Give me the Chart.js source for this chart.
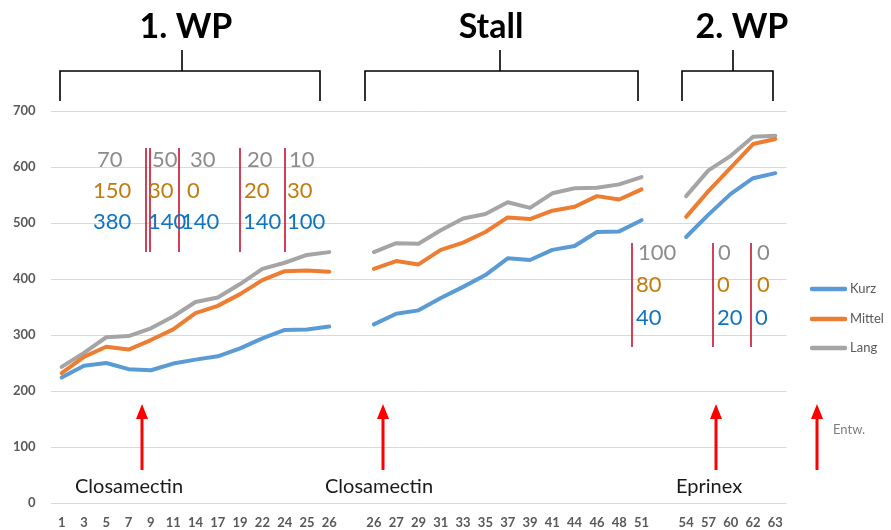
<!DOCTYPE html>
<html>
<head>
<meta charset="utf-8">
<script src="https://cdn.jsdelivr.net/npm/chart.js@4/dist/chart.umd.min.js"></script>
<style>
  html, body { margin: 0; padding: 0; background: #ffffff; }
  #wrap { width: 891px; height: 530px; }
</style>
</head>
<body>
<div id="wrap"><canvas id="c" width="891" height="530"></canvas></div>
<script>
// ---------- data ----------
// x categories (empty strings are the gaps between the three phases)
const categories = ['1','3','5','7','9','11','14','17','19','22','24','25','26','',
  '26','27','29','31','33','35','37','39','41','44','46','48','51','',
  '54','57','60','62','63'];

const kurz = [224, 245, 250, 239, 237, 249, 256, 262, 276, 294, 309, 310, 315, null,
  319, 338, 344, 366, 386, 407, 437, 434, 452, 459, 484, 485, 505, null,
  475, 515, 552, 580, 589];

const mittel = [232, 261, 279, 274, 291, 310, 339, 352, 373, 398, 414, 415, 413, null,
  418, 432, 426, 452, 465, 484, 510, 507, 522, 529, 548, 542, 560, null,
  511, 557, 599, 641, 650];

const lang = [243, 268, 296, 298, 312, 333, 359, 367, 391, 418, 429, 443, 448, null,
  448, 464, 463, 487, 508, 516, 537, 527, 553, 562, 563, 569, 582, null,
  548, 594, 620, 654, 656];

const seriesNames = ['Kurz', 'Mittel', 'Lang'];
const yTicks = [0, 100, 200, 300, 400, 500, 600, 700];

// annotation texts
const phaseTitles = ['1. WP', 'Stall', '2. WP'];
const treatments = ['Closamectin', 'Closamectin', 'Eprinex'];
const arrowNote = 'Entw.';
const grayNums1 = ['70', '50', '30', '20', '10'];
const orangeNums1 = ['150', '30', '0', '20', '30'];
const blueNums1 = ['380', '140', '140', '140', '100'];
const grayNums2 = ['100', '0', '0'];
const orangeNums2 = ['80', '0', '0'];
const blueNums2 = ['40', '20', '0'];

// ---------- styles / layout ----------
const COLORS = ['#5B9BD5', '#ED7D31', '#A5A5A5'];
const NUM_COLORS = { gray: '#8C8C8C', orange: '#C27C0E', blue: '#0F75C1' };
const FONT = 'Lato, "Open Sans", sans-serif';

const annotations = {
  id: 'annotations',
  afterDraw(chart) {
    const ctx = chart.ctx;
    ctx.save();

    // phase brackets and titles
    const brackets = [
      { l: 60, r: 320, c: 182, tx: 186 },
      { l: 365, r: 638, c: 500, tx: 491 },
      { l: 682, r: 773, c: 733, tx: 742 }
    ];
    ctx.strokeStyle = '#000';
    ctx.lineWidth = 1.6;
    brackets.forEach((b, i) => {
      ctx.beginPath();
      ctx.moveTo(b.l, 101); ctx.lineTo(b.l, 71); ctx.lineTo(b.r, 71); ctx.lineTo(b.r, 101);
      ctx.moveTo(b.c, 71); ctx.lineTo(b.c, 50);
      ctx.stroke();
      ctx.fillStyle = '#000';
      ctx.font = 'bold 34px ' + FONT;
      ctx.textAlign = 'center';
      ctx.textBaseline = 'middle';
      ctx.fillText(phaseTitles[i], b.tx, 27);
    });

    // red divider lines
    ctx.strokeStyle = '#C8102E';
    ctx.lineWidth = 1.6;
    [146, 150, 179, 240, 285].forEach(x => {
      ctx.beginPath(); ctx.moveTo(x, 148); ctx.lineTo(x, 252); ctx.stroke();
    });
    [632, 713, 751].forEach(x => {
      ctx.beginPath(); ctx.moveTo(x, 243); ctx.lineTo(x, 347); ctx.stroke();
    });

    // numbers
    ctx.font = '22px ' + FONT;
    ctx.textAlign = 'left';
    ctx.textBaseline = 'middle';
    const put = (arr, xs, y, col) => {
      ctx.fillStyle = col;
      arr.forEach((t, i) => ctx.fillText(t, xs[i], y));
    };
    put(grayNums1, [97, 152, 190, 247, 289], 160, NUM_COLORS.gray);
    put(orangeNums1, [93, 148, 187, 244, 287], 191, NUM_COLORS.orange);
    put(blueNums1, [93, 148, 181, 243, 287], 222, NUM_COLORS.blue);
    put(grayNums2, [638, 718, 757], 253, NUM_COLORS.gray);
    put(orangeNums2, [636, 717, 757], 285, NUM_COLORS.orange);
    put(blueNums2, [636, 717, 755], 318, NUM_COLORS.blue);

    // red arrows
    ctx.fillStyle = '#FF0000';
    ctx.strokeStyle = '#FF0000';
    [142, 383, 716, 817].forEach(x => {
      ctx.lineWidth = 3;
      ctx.beginPath(); ctx.moveTo(x, 416); ctx.lineTo(x, 470); ctx.stroke();
      ctx.beginPath();
      ctx.moveTo(x, 404); ctx.lineTo(x - 6, 419); ctx.lineTo(x + 6, 419); ctx.closePath();
      ctx.fill();
    });

    // treatment labels
    ctx.fillStyle = '#1a1a1a';
    ctx.font = '20px ' + FONT;
    ctx.textBaseline = 'middle';
    [75, 325, 676].forEach((x, i) => ctx.fillText(treatments[i], x, 487));
    ctx.fillStyle = '#7F7F7F';
    ctx.font = '13px ' + FONT;
    ctx.fillText(arrowNote, 833, 430);

    // legend
    chart.data.datasets.forEach((ds, i) => {
      const y = [289, 319, 348][i];
      ctx.strokeStyle = ds.borderColor;
      ctx.lineWidth = 4.5;
      ctx.lineCap = 'round';
      ctx.beginPath(); ctx.moveTo(812, y); ctx.lineTo(845, y); ctx.stroke();
      ctx.fillStyle = '#595959';
      ctx.font = '13px ' + FONT;
      ctx.textAlign = 'left';
      ctx.fillText(ds.label, 850, y);
    });

    ctx.restore();
  }
};

new Chart(document.getElementById('c'), {
  type: 'line',
  data: {
    labels: categories,
    datasets: [kurz, mittel, lang].map((d, i) => ({
      label: seriesNames[i],
      data: d,
      borderColor: COLORS[i],
      backgroundColor: COLORS[i],
      borderWidth: 4,
      pointRadius: 0,
      pointHoverRadius: 0,
      tension: 0,
      spanGaps: false,
      borderCapStyle: 'round',
      borderJoinStyle: 'round'
    }))
  },
  options: {
    responsive: false,
    animation: false,
    layout: { padding: { left: 0, right: 104.5, top: 111, bottom: 0 } },
    plugins: { legend: { display: false }, tooltip: { enabled: false } },
    scales: {
      x: {
        type: 'category',
        offset: true,
        grid: { display: false, drawTicks: false },
        border: { display: false },
        ticks: {
          autoSkip: false, maxRotation: 0, minRotation: 0,
          color: '#595959', padding: 12,
          font: { family: FONT, size: 13, weight: 'bold' }
        },
        afterFit(scale) { scale.height = 27; }
      },
      y: {
        min: 0, max: 700,
        afterBuildTicks(scale) { scale.ticks = yTicks.map(v => ({ value: v })); },
        grid: { color: '#D9D9D9', lineWidth: 1, drawTicks: false },
        border: { display: false },
        ticks: {
          color: '#595959', padding: 15,
          font: { family: FONT, size: 13, weight: 'bold' }
        },
        afterFit(scale) { scale.width = 50.5; }
      }
    }
  },
  plugins: [annotations]
});
</script>
</body>
</html>
